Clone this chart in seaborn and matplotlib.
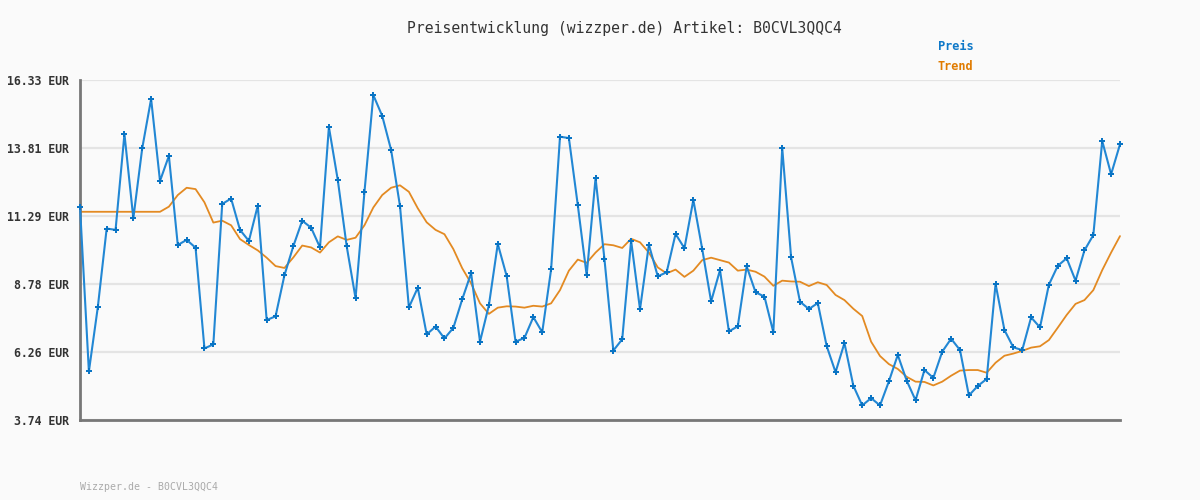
import matplotlib
matplotlib.use("Agg")
import matplotlib.pyplot as plt
import seaborn as sns
import pandas as pd
import numpy as np

# Preiswerte, 118 Messpunkte
preis = [
    11.64, 5.54, 7.91, 10.83, 10.78, 14.33, 11.21, 13.80, 15.63, 12.59,
    13.52, 10.22, 10.41, 10.12, 6.39, 6.54, 11.74, 11.94, 10.78, 10.37,
    11.68, 7.44, 7.58, 9.10, 10.18, 11.12, 10.86, 10.13, 14.59, 12.63,
    10.18, 8.25, 12.18, 15.77, 15.00, 13.74, 11.66, 7.91, 8.64, 6.91,
    7.20, 6.76, 7.15, 8.21, 9.18, 6.64, 7.99, 10.26, 9.07, 6.64,
    6.78, 7.55, 6.99, 9.32, 14.23, 14.18, 11.70, 9.10, 12.70, 9.70,
    6.31, 6.73, 10.38, 7.84, 10.23, 9.06, 9.21, 10.63, 10.10, 11.89,
    10.07, 8.13, 9.29, 7.02, 7.21, 9.43, 8.47, 8.31, 6.99, 13.81,
    9.76, 8.12, 7.85, 8.07, 6.48, 5.51, 6.59, 5.01, 4.28, 4.55,
    4.28, 5.17, 6.15, 5.20, 4.47, 5.59, 5.30, 6.27, 6.75, 6.33,
    4.65, 5.00, 5.26, 8.78, 7.07, 6.43, 6.33, 7.54, 7.17, 8.75,
    9.45, 9.73, 8.90, 10.02, 10.59, 14.07, 12.84, 13.95,
]

# Trendlinie
trend = [
    11.45, 11.45, 11.45, 11.45, 11.45, 11.45, 11.45, 11.45, 11.45, 11.45,
    11.64, 12.07, 12.34, 12.29, 11.80, 11.05, 11.12, 10.95, 10.44, 10.22,
    10.02, 9.75, 9.44, 9.37, 9.76, 10.20, 10.13, 9.94, 10.32, 10.54,
    10.41, 10.49, 10.95, 11.61, 12.07, 12.34, 12.43, 12.19, 11.58, 11.06,
    10.78, 10.62, 10.07, 9.36, 8.80, 8.06, 7.67, 7.90, 7.95, 7.94,
    7.90, 7.97, 7.94, 8.06, 8.55, 9.27, 9.68, 9.56, 9.94, 10.25,
    10.21, 10.11, 10.45, 10.32, 9.94, 9.39, 9.17, 9.31, 9.04, 9.27,
    9.66, 9.75, 9.66, 9.57, 9.27, 9.31, 9.23, 9.05, 8.71, 8.90,
    8.87, 8.86, 8.70, 8.84, 8.74, 8.37, 8.18, 7.86, 7.59, 6.64,
    6.11, 5.81, 5.63, 5.34, 5.16, 5.15, 5.02, 5.16, 5.38, 5.57,
    5.59, 5.59, 5.49, 5.86, 6.12, 6.20, 6.30, 6.42, 6.47, 6.70,
    7.16, 7.63, 8.04, 8.18, 8.55, 9.29, 9.94, 10.55,
]

y_ticks = [3.74, 6.26, 8.78, 11.29, 13.81, 16.33]
y_labels = [f"{v:.2f} EUR" for v in y_ticks]

artikel = "B0CVL3QQC4"
titel = f"Preisentwicklung (wizzper.de) Artikel: {artikel}"
fusszeile = f"Wizzper.de - {artikel}"

FARBE_PREIS = "#2287d4"
FARBE_MARKER = "#0a74c4"
FARBE_TREND = "#e38a22"
HINTERGRUND = "#fafafa"

sns.set_style("white")
plt.rcParams["font.family"] = ["DejaVu Sans Mono", "DejaVu Sans"]

df = pd.DataFrame({"idx": np.arange(len(preis)), "Preis": preis, "Trend": trend})

fig = plt.figure(figsize=(12, 5), dpi=100, facecolor=HINTERGRUND)
ax = fig.add_axes([80 / 1200, 80 / 500, 1040 / 1200, 340 / 500])
ax.set_facecolor(HINTERGRUND)

sns.lineplot(data=df, x="idx", y="Trend", ax=ax, color=FARBE_TREND, lw=1.3,
             zorder=3, clip_on=False)
sns.lineplot(data=df, x="idx", y="Preis", ax=ax, color=FARBE_PREIS, lw=1.5,
             marker="P", markersize=4, markeredgewidth=0,
             markerfacecolor=FARBE_MARKER, zorder=6, clip_on=False)

ax.set_xlim(0, len(preis) - 1)
ax.set_ylim(y_ticks[0], y_ticks[-1])
ax.set_yticks(y_ticks)
ax.set_yticklabels(y_labels, fontsize=8.3, fontweight="bold", color="#333333")
ax.set_xticks([])
ax.set_xlabel("")
ax.set_ylabel("")
ax.tick_params(axis="y", length=0, pad=8)

ax.yaxis.grid(True, color="#e4e4e4", lw=1.6, zorder=0)
ax.set_axisbelow(True)
for s in ["top", "right"]:
    ax.spines[s].set_visible(False)
for s in ["left", "bottom"]:
    ax.spines[s].set_color("#777777")
    ax.spines[s].set_linewidth(2)
    ax.spines[s].set_zorder(5)

fig.text(624 / 1200, 1 - 28 / 500, titel, ha="center", va="center",
         fontsize=10.6, color="#333333")
fig.text(938 / 1200, 1 - 46 / 500, "Preis", ha="left", va="center",
         fontsize=8.6, fontweight="bold", color="#0e78c8")
fig.text(938 / 1200, 1 - 67 / 500, "Trend", ha="left", va="center",
         fontsize=8.6, fontweight="bold", color="#e07b00")
fig.text(80 / 1200, 1 - 487 / 500, fusszeile, ha="left", va="center",
         fontsize=7.1, color="#aaaaaa")

fig.savefig("out.png", dpi=100, facecolor=HINTERGRUND)
